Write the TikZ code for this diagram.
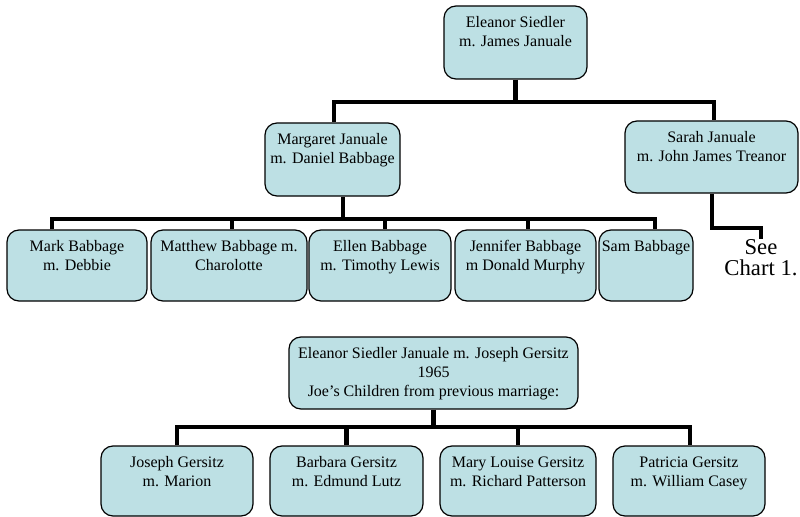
\documentclass[tikz,border=0pt]{standalone}
\usepackage{fontspec}
\setmainfont{Liberation Serif}
\usetikzlibrary{fit}
\definecolor{boxfill}{RGB}{189,224,228}
\tikzset{
  famrect/.style={draw=black, fill=boxfill, rounded corners=9pt, inner sep=0pt, line width=0.9pt},
  famtext/.style={anchor=north, align=center, inner sep=0pt, font=\fontsize{12}{14.25}\selectfont},
  seetext/.style={anchor=north, align=center, inner sep=0pt, font=\fontsize{17}{16}\selectfont},
  conn/.style={line width=3.6pt, line join=miter, draw=black}
}
\newcommand\fambox[6]{%
  \node[famrect, fit={(#2,#3) (#4,#5)}] (#1) {};
  \node[famtext] (#1-t) at ([yshift=-8.25pt]#1.north) {#6};}
\begin{document}
\begin{tikzpicture}[x=0.75pt, y=-0.75pt]
\useasboundingbox (0,0) rectangle (800,517);

% top family
\fambox{eleanor}{444}{6}{587}{79}{Eleanor Siedler\\m. James Januale}
\fambox{margaret}{265}{123}{400}{196}{Margaret Januale\\m. Daniel Babbage}
\fambox{sarah}{625}{121}{798}{193}{Sarah Januale\\m. John James Treanor}

\fambox{mark}{7}{230}{147}{301}{Mark Babbage\\m. Debbie}
\fambox{matthew}{151}{230}{307}{301}{Matthew Babbage m.\\Charolotte}
\fambox{ellen}{309}{230}{451}{301}{Ellen Babbage\\m. Timothy Lewis}
\fambox{jennifer}{455}{230}{596}{301}{Jennifer Babbage\\m Donald Murphy}
\fambox{sam}{599}{230}{693}{301}{Sam Babbage}

\node[seetext] (see) at (761,239) {See\\Chart 1.};

% lower family
\fambox{gersitz}{289}{337}{578}{409}{Eleanor Siedler Januale m. Joseph Gersitz\\1965\\Joe’s Children from previous marriage:}
\fambox{joseph}{101}{446}{253}{516}{Joseph Gersitz\\m. Marion}
\fambox{barbara}{270}{446}{423}{516}{Barbara Gersitz\\m. Edmund Lutz}
\fambox{mary}{440}{446}{596}{516}{Mary Louise Gersitz\\m. Richard Patterson}
\fambox{patricia}{613}{446}{765}{516}{Patricia Gersitz\\m. William Casey}

% connectors: generation 1
\coordinate (j1L) at (334,102);
\coordinate (j1R) at (714,102);
\draw[conn] (margaret.north -| j1L) -- (j1L) -- (j1R) -- (sarah.north -| j1R);
\draw[conn] (eleanor.south) -- (eleanor.south |- j1L);

% connectors: Babbage children
\coordinate (j2L) at (52,219);
\coordinate (j2R) at (655,219);
\coordinate (s2a) at (232,219);
\coordinate (s2b) at (385,219);
\coordinate (s2c) at (528,219);
\coordinate (m2) at (343,219);
\draw[conn] (mark.north -| j2L) -- (j2L) -- (j2R) -- (sam.north -| j2R);
\draw[conn] (s2a) -- (s2a |- matthew.north);
\draw[conn] (s2b) -- (s2b |- ellen.north);
\draw[conn] (s2c) -- (s2c |- jennifer.north);
\draw[conn] (m2) -- (m2 |- margaret.south);

% connector: Sarah to see chart
\coordinate (sk1) at (712,228);
\coordinate (sk2) at (761,228);
\draw[conn] (sarah.south -| sk1) -- (sk1) -- (sk2) -- (see.north);

% connectors: Gersitz children
\coordinate (j3L) at (177,427);
\coordinate (j3R) at (690,427);
\draw[conn] (joseph.north -| j3L) -- (j3L) -- (j3R) -- (patricia.north -| j3R);
\draw[conn] (barbara.north) -- (barbara.north |- j3L);
\draw[conn] (mary.north) -- (mary.north |- j3L);
\draw[conn] (gersitz.south) -- (gersitz.south |- j3L);
\end{tikzpicture}
\end{document}
